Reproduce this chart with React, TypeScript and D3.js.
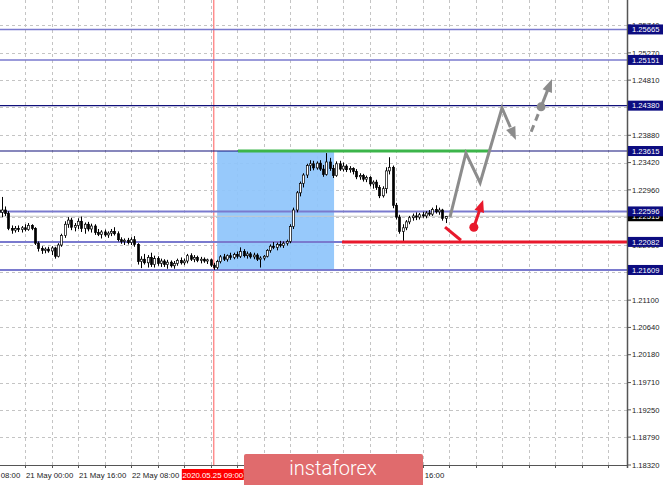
import React from 'react';
import * as d3 from 'd3';

// price axis ticks
const priceTicks = [1.1832, 1.1879, 1.1925, 1.1971, 1.2018, 1.2064, 1.211, 1.2157, 1.2203, 1.225, 1.2296, 1.2342, 1.2388, 1.2435, 1.2481, 1.2527, 1.2574];

// horizontal levels drawn on the chart
const levels = [1.25665, 1.25151, 1.2438, 1.23615, 1.22596, 1.22082, 1.21609];
const bidPrice = 1.22515;

// time labels, one every 16 bars starting at bar -16
const timeLabels = ['20 May 08:00', '21 May 00:00', '21 May 16:00', '22 May 08:00', '25 May 00:00', '25 May 16:00', '26 May 08:00', '27 May 00:00', '27 May 16:00'];
const markerLabel = '2020.05.25 09:00';
const markerBar = 57;

// H1 candles [open, high, low, close], first one is bar -8 (20 May 16:00)
const firstBar = -8;
const candles: number[][] = [
  [1.2262, 1.2275, 1.2255, 1.2258], [1.2258, 1.2284, 1.225, 1.2262], [1.2262, 1.2268, 1.2252, 1.2256], [1.2256, 1.226, 1.2228, 1.2231],
  [1.2231, 1.2236, 1.2222, 1.2228], [1.2228, 1.2235, 1.2224, 1.2231], [1.2231, 1.2236, 1.2225, 1.2229], [1.2229, 1.2235, 1.2224, 1.2232],
  [1.2232, 1.2238, 1.2226, 1.2229], [1.2229, 1.224, 1.2227, 1.2236], [1.2236, 1.2238, 1.2228, 1.2231], [1.2231, 1.2233, 1.2203, 1.2206],
  [1.2206, 1.2209, 1.2192, 1.2197], [1.2197, 1.2201, 1.2188, 1.2194], [1.2194, 1.2199, 1.2189, 1.2196], [1.2196, 1.22, 1.219, 1.2193],
  [1.2193, 1.2201, 1.2186, 1.2198], [1.2198, 1.22, 1.218, 1.2184], [1.2184, 1.2206, 1.2182, 1.2203], [1.2203, 1.2222, 1.22, 1.2219],
  [1.2219, 1.2243, 1.2215, 1.2238], [1.2238, 1.225, 1.2232, 1.2245], [1.2245, 1.2249, 1.2228, 1.2233], [1.2233, 1.224, 1.2226, 1.2236],
  [1.2236, 1.2248, 1.223, 1.2243], [1.2243, 1.2251, 1.2225, 1.2231], [1.2231, 1.2241, 1.2222, 1.2238], [1.2238, 1.2242, 1.2226, 1.223],
  [1.223, 1.2239, 1.2224, 1.2235], [1.2235, 1.2238, 1.222, 1.2224], [1.2224, 1.223, 1.2218, 1.2221], [1.2221, 1.2228, 1.2214, 1.2225],
  [1.2225, 1.2229, 1.2217, 1.222], [1.222, 1.2226, 1.2215, 1.2223], [1.2223, 1.223, 1.2218, 1.2226], [1.2226, 1.2233, 1.2219, 1.2222],
  [1.2222, 1.2226, 1.2209, 1.2212], [1.2212, 1.2216, 1.2205, 1.2209], [1.2209, 1.2214, 1.2203, 1.2211], [1.2211, 1.2215, 1.2204, 1.2207],
  [1.2207, 1.2216, 1.2203, 1.2212], [1.2212, 1.2218, 1.22, 1.2204], [1.2204, 1.2206, 1.217, 1.2175], [1.2175, 1.2184, 1.2164, 1.2179],
  [1.2179, 1.2188, 1.217, 1.2173], [1.2173, 1.2186, 1.2165, 1.2182], [1.2182, 1.219, 1.2166, 1.217], [1.217, 1.2185, 1.2165, 1.218],
  [1.218, 1.2184, 1.2168, 1.2172], [1.2172, 1.218, 1.2166, 1.2176], [1.2176, 1.2179, 1.2166, 1.217], [1.217, 1.2178, 1.2163, 1.2174],
  [1.2174, 1.2177, 1.2165, 1.2168], [1.2168, 1.2176, 1.2163, 1.2172], [1.2172, 1.218, 1.2168, 1.2177], [1.2177, 1.2182, 1.217, 1.2173],
  [1.2173, 1.218, 1.2169, 1.2176], [1.2176, 1.2188, 1.2172, 1.2185], [1.2185, 1.2189, 1.2176, 1.2179], [1.2179, 1.2186, 1.2174, 1.2182],
  [1.2182, 1.2185, 1.2174, 1.2177], [1.2177, 1.2183, 1.2172, 1.2179], [1.2179, 1.2182, 1.2173, 1.2176], [1.2176, 1.218, 1.2171, 1.2178],
  [1.2178, 1.218, 1.2166, 1.2169], [1.2169, 1.2173, 1.2161, 1.2165], [1.2165, 1.2178, 1.2162, 1.2175], [1.2175, 1.2186, 1.2172, 1.2183],
  [1.2183, 1.2188, 1.2176, 1.2179], [1.2179, 1.2187, 1.2175, 1.2185], [1.2185, 1.219, 1.2178, 1.2182], [1.2182, 1.219, 1.2179, 1.2187],
  [1.2187, 1.2192, 1.218, 1.2184], [1.2184, 1.2199, 1.2181, 1.2192], [1.2192, 1.2196, 1.2182, 1.2185], [1.2185, 1.2192, 1.218, 1.2188],
  [1.2188, 1.2191, 1.218, 1.2183], [1.2183, 1.219, 1.2179, 1.2186], [1.2186, 1.2189, 1.2176, 1.2179], [1.2179, 1.2184, 1.2165, 1.2181],
  [1.2181, 1.2186, 1.2177, 1.2184], [1.2184, 1.2196, 1.2182, 1.2194], [1.2194, 1.2204, 1.219, 1.2201], [1.2201, 1.2208, 1.2196, 1.2199],
  [1.2199, 1.2207, 1.2194, 1.2204], [1.2204, 1.221, 1.2199, 1.2202], [1.2202, 1.2209, 1.2198, 1.2206], [1.2206, 1.2212, 1.2202, 1.2209],
  [1.2209, 1.2238, 1.2206, 1.2234], [1.2234, 1.2266, 1.223, 1.2262], [1.2262, 1.2294, 1.2258, 1.2291], [1.2291, 1.231, 1.2285, 1.2307],
  [1.2307, 1.2324, 1.23, 1.2321], [1.2321, 1.234, 1.2316, 1.2337], [1.2337, 1.2346, 1.2328, 1.234], [1.234, 1.2345, 1.2329, 1.2333],
  [1.2333, 1.2344, 1.233, 1.2341], [1.2341, 1.2346, 1.2328, 1.2331], [1.2331, 1.2338, 1.2318, 1.2322], [1.2322, 1.2358, 1.232, 1.2343],
  [1.2343, 1.235, 1.2328, 1.2332], [1.2332, 1.2338, 1.2316, 1.232], [1.232, 1.2344, 1.2318, 1.234], [1.234, 1.2345, 1.2328, 1.2331],
  [1.2331, 1.2342, 1.2327, 1.2336], [1.2336, 1.2339, 1.2326, 1.233], [1.233, 1.2336, 1.2325, 1.2332], [1.2332, 1.2334, 1.2322, 1.2327],
  [1.2327, 1.2331, 1.2314, 1.2318], [1.2318, 1.2324, 1.2313, 1.232], [1.232, 1.2323, 1.231, 1.2314], [1.2314, 1.232, 1.2309, 1.2317],
  [1.2317, 1.2319, 1.2302, 1.2306], [1.2306, 1.2312, 1.2298, 1.2309], [1.2309, 1.2313, 1.2296, 1.23], [1.23, 1.2304, 1.2282, 1.2286],
  [1.2286, 1.2302, 1.2283, 1.2298], [1.2298, 1.2334, 1.229, 1.2328], [1.2328, 1.2351, 1.2322, 1.2334], [1.2334, 1.2337, 1.2265, 1.227],
  [1.227, 1.2274, 1.2246, 1.225], [1.225, 1.2254, 1.2222, 1.2226], [1.2226, 1.2238, 1.2209, 1.2232], [1.2232, 1.2245, 1.2228, 1.2242],
  [1.2242, 1.2252, 1.2238, 1.2249], [1.2249, 1.2256, 1.2244, 1.2252], [1.2252, 1.2258, 1.2245, 1.225], [1.225, 1.2257, 1.2246, 1.2254],
  [1.2254, 1.2259, 1.2249, 1.2252], [1.2252, 1.226, 1.2248, 1.2257], [1.2257, 1.2262, 1.2252, 1.2255], [1.2255, 1.2266, 1.2252, 1.2263],
  [1.2263, 1.227, 1.2256, 1.2259], [1.2259, 1.2266, 1.2254, 1.2262], [1.2262, 1.2264, 1.2244, 1.2248], [1.2248, 1.2252, 1.224, 1.2251],
];

// analyst drawings, in [bar, price]
const zoneBox = { from: 58, to: 93.3, top: 1.23615, bottom: 1.21609 };
const greenLine = { from: 64.3, to: 140.4, price: 1.23615 };
const redLine = { from: 95.7, price: 1.22082 };
const grayPath = [[128.3, 1.225], [133.1, 1.2358], [137.4, 1.2308], [144, 1.2434], [148.2, 1.238]];
const grayDashed = [[152.8, 1.2394], [155.8, 1.2436], [159.1, 1.2483]];
const redSegment = [[126.8, 1.2233], [131.6, 1.2211]];
const redArrow = [[135.5, 1.2233], [138.3, 1.2279]];

const W = 665;
const H = 485;
const axisX = 627;
const axisY = 465;
const FONT = '"Liberation Sans", Arial, sans-serif';

function arrowHead(x1: number, y1: number, x2: number, y2: number, len: number, half: number) {
  const a = Math.atan2(y2 - y1, x2 - x1);
  const bx = x2 - len * Math.cos(a);
  const by = y2 - len * Math.sin(a);
  const px = -Math.sin(a) * half;
  const py = Math.cos(a) * half;
  return `M${x2},${y2}L${bx + px},${by + py}L${bx - px},${by - py}Z`;
}

export default function App() {
  const x = d3.scaleLinear().domain([0, 16]).range([25, 78]);
  const y = d3.scaleLinear().domain([1.1832, 1.2574]).range([465, 25]);
  const line = d3.line<number[]>().x(d => x(d[0])).y(d => y(d[1]));

  const gridBars = d3.range(-8, 180, 8).filter(b => x(b) < axisX);
  const lastG = grayPath[grayPath.length - 2];
  const tipG = grayPath[grayPath.length - 1];
  const gTip = grayPath.map(d => [x(d[0]), y(d[1])]);
  const dash = grayDashed.map(d => [x(d[0]), y(d[1])]);
  const ra = redArrow.map(d => [x(d[0]), y(d[1])]);

  const levelColor = (v: number) => (v === 1.2438 || v === 1.23615 ? '#10107a' : '#7a7ace');
  const levelWidth = (v: number) => (v === 1.2438 || v === 1.23615 ? 1.2 : v > 1.25 ? 1.5 : 2);

  return (
    <svg width={W} height={H} style={{ position: 'fixed', left: 0, top: 0, background: '#fff' }} fontFamily={FONT}>
      <defs>
        <clipPath id="plot"><rect x={0} y={0} width={axisX} height={axisY} /></clipPath>
      </defs>
      <g clipPath="url(#plot)">
        {/* grid */}
        {priceTicks.map(t => (
          <line key={'h' + t} x1={0} x2={axisX} y1={Math.round(y(t)) + 0.5} y2={Math.round(y(t)) + 0.5} stroke="#c4c4c4" strokeDasharray="3,3" />
        ))}
        {gridBars.map(b => (
          <line key={'v' + b} x1={Math.round(x(b)) + 0.5} x2={Math.round(x(b)) + 0.5} y1={0} y2={axisY} stroke="#c4c4c4" strokeDasharray="3,3" />
        ))}
        {/* zone box */}
        <rect x={x(zoneBox.from)} y={y(zoneBox.top)} width={x(zoneBox.to) - x(zoneBox.from)} height={y(zoneBox.bottom) - y(zoneBox.top)} fill="#8ec4fb" opacity={0.92} />
        {/* marker vertical */}
        <line x1={x(markerBar)} x2={x(markerBar)} y1={0} y2={axisY} stroke="#ff5a5a" strokeWidth={1} />
        {/* levels */}
        <line x1={0} x2={axisX} y1={y(bidPrice)} y2={y(bidPrice)} stroke="#c8c8c8" strokeWidth={1} />
        {levels.map(v => (
          <line key={'l' + v} x1={0} x2={axisX} y1={y(v)} y2={y(v)} stroke={levelColor(v)} strokeWidth={levelWidth(v)} />
        ))}
        {/* candles */}
        {candles.map((c, i) => {
          const cx = Math.round(x(firstBar + i)) + 0.5;
          const [o, h, l, cl] = c;
          const bull = cl >= o;
          const top = y(Math.max(o, cl));
          const bot = y(Math.min(o, cl));
          return (
            <g key={i}>
              <line x1={cx} x2={cx} y1={y(h)} y2={y(l)} stroke="#000" strokeWidth={1} />
              <rect x={cx - 1} y={top} width={2} height={Math.max(bot - top, 1)} fill={bull ? '#fff' : '#000'} stroke="#000" strokeWidth={0.7} />
            </g>
          );
        })}
        {/* green and red lines */}
        <line x1={x(greenLine.from)} x2={x(greenLine.to)} y1={y(greenLine.price)} y2={y(greenLine.price)} stroke="#3cb54a" strokeWidth={3} />
        <line x1={x(redLine.from)} x2={axisX} y1={y(redLine.price)} y2={y(redLine.price)} stroke="#e8192c" strokeWidth={3} />
        {/* gray scenario */}
        <path d={line(grayPath.slice(0, -1).concat([[lastG[0] + (tipG[0] - lastG[0]) * 0.6, lastG[1] + (tipG[1] - lastG[1]) * 0.6]])) || ''} fill="none" stroke="#8c8c8c" strokeWidth={3} strokeLinejoin="miter" />
        <path d={arrowHead(gTip[3][0], gTip[3][1], gTip[4][0], gTip[4][1], 13, 5)} fill="#8c8c8c" />
        <line x1={dash[0][0]} y1={dash[0][1]} x2={dash[1][0]} y2={dash[1][1]} stroke="#8c8c8c" strokeWidth={3} strokeDasharray="7,5" />
        <line x1={dash[1][0]} y1={dash[1][1]} x2={dash[1][0] + (dash[2][0] - dash[1][0]) * 0.6} y2={dash[1][1] + (dash[2][1] - dash[1][1]) * 0.6} stroke="#8c8c8c" strokeWidth={3} />
        <path d={arrowHead(dash[1][0], dash[1][1], dash[2][0], dash[2][1], 13, 5)} fill="#8c8c8c" />
        <circle cx={dash[1][0]} cy={dash[1][1]} r={4.5} fill="#8c8c8c" />
        {/* red scenario */}
        <path d={line(redSegment) || ''} stroke="#e8192c" strokeWidth={3} fill="none" />
        <line x1={ra[0][0]} y1={ra[0][1]} x2={ra[0][0] + (ra[1][0] - ra[0][0]) * 0.6} y2={ra[0][1] + (ra[1][1] - ra[0][1]) * 0.6} stroke="#e8192c" strokeWidth={3} />
        <path d={arrowHead(ra[0][0], ra[0][1], ra[1][0], ra[1][1], 12, 5)} fill="#e8192c" />
        <circle cx={ra[0][0]} cy={ra[0][1]} r={4.5} fill="#e8192c" />
      </g>

      {/* axes */}
      <line x1={0} x2={axisX} y1={axisY + 0.5} y2={axisY + 0.5} stroke="#555" strokeWidth={1} />
      <line x1={axisX + 0.5} x2={axisX + 0.5} y1={0} y2={axisY + 3} stroke="#555" strokeWidth={1.5} />
      {gridBars.map(b => (
        <line key={'t' + b} x1={Math.round(x(b)) + 0.5} x2={Math.round(x(b)) + 0.5} y1={axisY} y2={axisY + 3} stroke="#555" />
      ))}
      {timeLabels.map((t, k) => (
        <text key={t} x={x(k * 16 - 16) + 1} y={478} fontSize={7.8} fill="#222">{t}</text>
      ))}
      {priceTicks.map(t => (
        <g key={'p' + t}>
          <line x1={axisX} x2={axisX + 4} y1={y(t)} y2={y(t)} stroke="#555" />
          <text x={axisX + 5} y={y(t)} dy="0.35em" fontSize={7.6} fill="#222">{t.toFixed(5)}</text>
        </g>
      ))}
      {/* bid label */}
      <rect x={axisX + 1} y={y(bidPrice) - 4} width={35} height={9} fill="#000" />
      <text x={axisX + 5} y={y(bidPrice) + 0.5} dy="0.35em" fontSize={7.6} fill="#fff">{bidPrice.toFixed(5)}</text>
      {levels.map(v => (
        <g key={'b' + v}>
          <rect x={axisX + 1} y={y(v) - 5} width={35} height={10} fill="#0c0c80" />
          <text x={axisX + 5} y={y(v)} dy="0.35em" fontSize={7.6} fill="#fff">{v.toFixed(5)}</text>
        </g>
      ))}
      {/* marker time label */}
      <rect x={x(markerBar) - 32} y={469} width={62} height={11} fill="#ff0000" />
      <text x={x(markerBar) - 1} y={475} dy="0.35em" textAnchor="middle" fontSize={7.8} fill="#fff">{markerLabel}</text>
      {/* watermark banner */}
      <rect x={244} y={454} width={179} height={40} rx={2} fill="#e06b6d" />
      <text x={333} y={475} textAnchor="middle" fontSize={20} fontFamily="Roboto, 'Open Sans', sans-serif" fontWeight={300} fill="#fff">instaforex</text>
    </svg>
  );
}
